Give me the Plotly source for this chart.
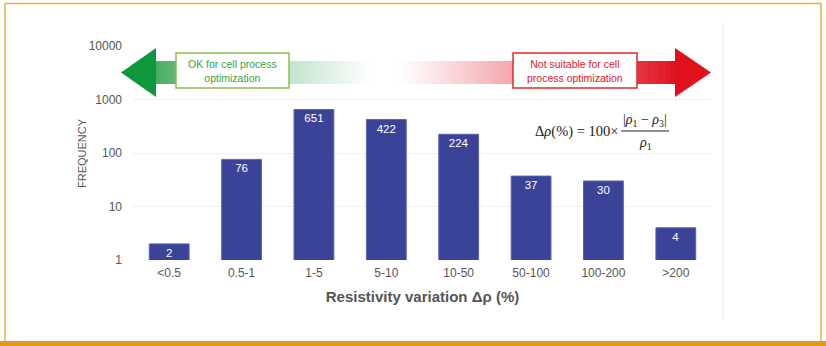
import plotly.graph_objects as go

categories = ["<0.5", "0.5-1", "1-5", "5-10", "10-50", "50-100", "100-200", ">200"]
frequency = [2, 76, 651, 422, 224, 37, 30, 4]
ytick_vals = [1, 10, 100, 1000, 10000]
ytick_text = ["1", "10", "100", "1000", "10000"]

W, H = 826, 346
L, R, T, B = 133, 712, 46, 260  # plot area in pixels


def px(x):
    return (x - L) / (R - L)


def py(y):
    return (B - y) / (B - T)


FONT = "Liberation Sans Narrow, Arial Narrow, Liberation Sans, Arial, sans-serif"
SERIF = "Liberation Serif, Times New Roman, serif"

fig = go.Figure()
fig.add_trace(go.Bar(
    x=categories, y=frequency,
    marker=dict(color="#3b4398", line=dict(color="#5a63b0", width=1)),
    width=0.55,
    text=[str(v) for v in frequency],
    textposition="inside", insidetextanchor="end", textangle=0, constraintext="none",
    textfont=dict(color="white", size=11.5, family="Liberation Sans, Arial, sans-serif"),
    cliponaxis=False,
))

shapes = []
# page borders
shapes.append(dict(type="line", xref="paper", yref="paper", x0=px(5), x1=px(821), y0=py(3.5), y1=py(3.5),
                   line=dict(color="#e3b53c", width=1.5)))
shapes.append(dict(type="line", xref="paper", yref="paper", x0=px(5), x1=px(5), y0=py(3), y1=py(342),
                   line=dict(color="#e3b53c", width=1.5)))
shapes.append(dict(type="line", xref="paper", yref="paper", x0=px(821), x1=px(821), y0=py(3), y1=py(342),
                   line=dict(color="#e3b53c", width=1.5)))
shapes.append(dict(type="rect", xref="paper", yref="paper", x0=px(0), x1=px(826), y0=py(341), y1=py(347),
                   fillcolor="#e8951f", line=dict(width=0)))
# faint panel edge
shapes.append(dict(type="line", xref="paper", yref="paper", x0=px(723), x1=px(723), y0=py(22), y1=py(320),
                   line=dict(color="#ececec", width=1)))


def mix(c1, c2, t):
    return "rgb(%d,%d,%d)" % tuple(round(a + (b - a) * t) for a, b in zip(c1, c2))


white = (255, 255, 255)
red = (224, 18, 34)
sy0, sy1 = 61, 84
N = 50
# green shaft gradient (solid near head, fading to white)
gx0, gx1 = 150, 372
for i in range(N):
    xa = gx0 + (gx1 - gx0) * i / N
    xb = gx0 + (gx1 - gx0) * (i + 1) / N + 0.6
    t = (i + 0.5) / N
    shapes.append(dict(type="rect", xref="paper", yref="paper", x0=px(xa), x1=px(xb), y0=py(sy1), y1=py(sy0),
                       fillcolor=mix((60, 168, 90), white, t ** 0.8), line=dict(width=0), layer="above"))
shapes.append(dict(type="path", xref="paper", yref="paper",
                   path="M %f %f L %f %f L %f %f Z" % (px(121), py(72.5), px(156), py(48), px(156), py(97)),
                   fillcolor="rgb(16,150,60)", line=dict(width=0), layer="above"))
# red shaft gradient
rx0, rx1 = 398, 676
for i in range(N):
    xa = rx0 + (rx1 - rx0) * i / N - 0.6
    xb = rx0 + (rx1 - rx0) * (i + 1) / N
    t = (i + 0.5) / N
    shapes.append(dict(type="rect", xref="paper", yref="paper", x0=px(xa), x1=px(xb), y0=py(sy1), y1=py(sy0),
                       fillcolor=mix(white, red, t ** 1.1), line=dict(width=0), layer="above"))
shapes.append(dict(type="path", xref="paper", yref="paper",
                   path="M %f %f L %f %f L %f %f Z" % (px(711), py(72.5), px(675), py(48), px(675), py(97)),
                   fillcolor="rgb(226,16,28)", line=dict(width=0), layer="above"))
# boxes
shapes.append(dict(type="rect", xref="paper", yref="paper", x0=px(176), x1=px(289), y0=py(88), y1=py(53),
                   fillcolor="white", line=dict(color="#8cc04a", width=1.5), layer="above"))
shapes.append(dict(type="rect", xref="paper", yref="paper", x0=px(513), x1=px(637), y0=py(88), y1=py(53),
                   fillcolor="white", line=dict(color="#e02a2a", width=1.5), layer="above"))
# formula fraction bar
shapes.append(dict(type="line", xref="paper", yref="paper", x0=px(621), x1=px(669), y0=py(131), y1=py(131),
                   line=dict(color="#222", width=1.2), layer="above"))


def ann(text, x, y, size, color, family, xanchor="center", angle=0):
    return dict(text=text, x=px(x), y=py(y), xref="paper", yref="paper", xanchor=xanchor, yanchor="middle",
                showarrow=False, textangle=angle, font=dict(size=size, color=color, family=family))


annotations = [
    ann("OK for cell process<br>optimization", 232.5, 70.5, 10.5, "#3aa245", FONT),
    ann("Not suitable for cell<br>process optimization", 575, 70.5, 10.5, "#e0202a", FONT),
    ann("Δ<i>ρ</i>(%) = 100×", 620, 131, 14.5, "#222", SERIF, xanchor="right"),
    ann("|<i>ρ</i><sub>1</sub> − <i>ρ</i><sub>3</sub>|", 645, 120, 14, "#222", SERIF),
    ann("<i>ρ</i><sub>1</sub>", 645, 143, 14, "#222", SERIF),
    ann("FREQUENCY", 82, 153, 11, "#555", FONT, angle=-90),
]

fig.update_layout(
    width=W, height=H,
    margin=dict(l=L, r=W - R, t=T, b=H - B, pad=0),
    paper_bgcolor="white", plot_bgcolor="white",
    showlegend=False,
    bargap=0.45,
    font=dict(family=FONT, color="#555", size=11),
    xaxis=dict(showgrid=False, showline=False, zeroline=False, ticks="", ticklabelstandoff=4,
               tickfont=dict(size=12, color="#555", family=FONT),
               title=dict(text="<b>Resistivity variation Δρ (%)</b>", standoff=12,
                          font=dict(size=15, color="#555", family=FONT)),
               range=[-0.5, 7.5]),
    yaxis=dict(type="log", range=[0, 4], tickvals=ytick_vals, ticktext=ytick_text,
               showgrid=True, gridcolor="#efefef", gridwidth=1, zeroline=False, showline=False,
               ticks="", ticklabelstandoff=10, tickfont=dict(size=12, color="#555", family=FONT)),
    shapes=shapes,
    annotations=annotations,
)

fig.write_html("out.html")
